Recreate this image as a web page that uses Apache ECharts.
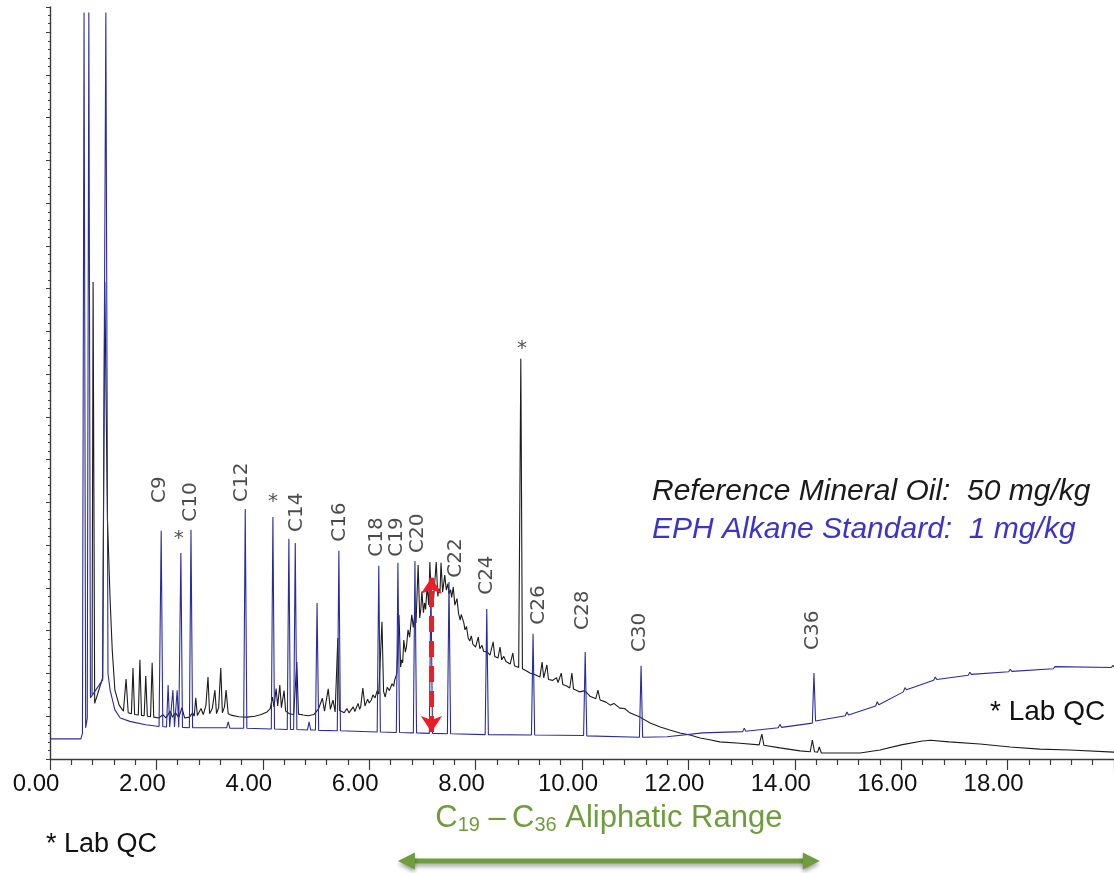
<!DOCTYPE html>
<html>
<head>
<meta charset="utf-8">
<script src="https://cdn.jsdelivr.net/npm/echarts@6/dist/echarts.min.js"></script>
<style>
  html, body { margin: 0; padding: 0; background: #fff; }
  #main { width: 1114px; height: 873px; }
</style>
</head>
<body>
<div id="main"></div>
<script>
// retention time (min) vs detector response
var blackTrace = [
  [0.79, 150], [0.81, 1116], [0.84, 130], [0.99, 190], [1.03, 1116], [1.08, 560], [1.13, 372],
  [1.17, 255], [1.22, 161], [1.30, 126], [1.38, 112], [1.43, 187], [1.47, 108], [1.53, 106], [1.56, 213],
  [1.59, 104], [1.66, 103], [1.69, 232], [1.72, 102], [1.77, 101], [1.80, 194], [1.83, 100], [1.89, 99],
  [1.92, 225], [1.95, 98], [2.05, 96], [2.12, 104], [2.18, 96], [2.26, 112], [2.30, 98], [2.36, 108],
  [2.42, 97], [2.48, 120], [2.53, 96], [2.62, 98], [2.68, 108], [2.71, 100], [2.74, 143], [2.77, 102],
  [2.84, 118], [2.88, 104], [2.93, 125], [2.97, 192], [3.00, 106], [3.05, 118], [3.10, 161], [3.13, 106],
  [3.17, 120], [3.21, 213], [3.24, 108], [3.28, 122], [3.31, 161], [3.35, 106], [3.42, 102], [3.55, 99],
  [3.70, 98], [3.85, 100], [3.97, 104], [4.08, 110], [4.14, 118], [4.18, 145], [4.21, 122], [4.25, 165],
  [4.28, 124], [4.32, 173], [4.35, 120], [4.40, 160], [4.43, 112], [4.50, 106], [4.58, 104], [4.64, 227],
  [4.67, 105], [4.76, 103], [4.86, 101], [4.96, 104], [5.05, 118], [5.12, 142], [5.16, 112], [5.23, 164],
  [5.27, 116], [5.32, 138], [5.36, 110], [5.41, 283], [5.44, 114], [5.53, 108], [5.58, 118], [5.62, 108],
  [5.70, 122], [5.73, 111], [5.79, 130], [5.82, 116], [5.84, 122], [5.88, 166], [5.92, 124], [5.97, 140],
  [6.00, 131], [6.04, 138], [6.07, 150], [6.11, 143], [6.15, 160], [6.18, 152], [6.24, 321], [6.27, 158],
  [6.30, 145], [6.34, 168], [6.38, 160], [6.43, 176], [6.46, 170], [6.48, 185], [6.52, 200], [6.56, 337],
  [6.59, 215], [6.61, 232], [6.63, 225], [6.65, 278], [6.68, 250], [6.70, 262], [6.73, 302], [6.76, 285],
  [6.80, 337], [6.83, 308], [6.85, 330], [6.88, 318], [6.92, 454], [6.95, 330], [6.97, 350], [6.99, 392],
  [7.02, 342], [7.04, 365], [7.06, 350], [7.09, 405], [7.12, 360], [7.14, 461], [7.17, 368], [7.19, 382],
  [7.21, 375], [7.26, 461], [7.29, 380], [7.31, 398], [7.33, 388], [7.35, 459], [7.38, 390], [7.42, 430],
  [7.45, 395], [7.48, 410], [7.50, 386], [7.53, 396], [7.55, 378], [7.58, 402], [7.61, 360], [7.65, 375],
  [7.68, 340], [7.71, 325], [7.73, 338], [7.75, 330], [7.78, 318], [7.80, 302], [7.83, 310], [7.86, 283],
  [7.89, 276], [7.92, 288], [7.95, 268], [8.00, 262], [8.05, 285], [8.08, 258], [8.12, 266], [8.15, 252],
  [8.22, 250], [8.27, 243], [8.33, 274], [8.36, 240], [8.42, 236], [8.46, 262], [8.49, 232], [8.53, 240],
  [8.57, 228], [8.65, 222], [8.70, 248], [8.73, 218], [8.81, 214], [8.85, 936], [8.88, 211], [8.96, 206],
  [9.02, 201], [9.10, 198], [9.17, 194], [9.21, 192], [9.25, 227], [9.28, 190], [9.34, 220], [9.37, 186],
  [9.45, 184], [9.52, 190], [9.55, 179], [9.61, 201], [9.64, 174], [9.72, 170], [9.77, 166], [9.81, 201],
  [9.84, 164], [9.96, 157], [10.05, 160], [10.15, 147], [10.26, 141], [10.30, 161], [10.34, 138], [10.45, 133],
  [10.53, 126], [10.60, 130], [10.71, 119], [10.80, 118], [10.90, 108], [11.09, 98], [11.28, 84], [11.47, 75],
  [11.65, 68], [11.84, 61], [12.03, 56], [12.22, 49], [12.40, 45], [12.59, 40], [12.97, 37], [13.33, 33],
  [13.38, 58], [13.42, 32], [13.72, 26], [14.10, 19], [14.29, 17], [14.33, 44], [14.37, 17], [14.43, 16],
  [14.46, 28], [14.50, 14], [14.66, 14], [15.23, 14], [15.60, 21], [16.00, 33], [16.40, 42], [16.55, 44],
  [16.90, 40], [17.48, 35], [18.05, 28], [18.60, 23], [19.17, 21], [20.00, 16]
];

var blueTrace = [
  [0.00, 47], [0.58, 47], [0.61, 60], [0.64, 1746], [0.67, 73], [0.70, 95], [0.73, 1746], [0.76, 143],
  [0.99, 185], [1.05, 1746], [1.09, 200], [1.13, 161], [1.22, 115], [1.32, 96], [1.50, 88], [1.80, 80],
  [2.05, 76], [2.09, 534], [2.12, 76], [2.19, 75], [2.22, 173], [2.25, 75], [2.28, 75], [2.31, 161],
  [2.34, 75], [2.36, 75], [2.39, 161], [2.42, 74], [2.44, 74], [2.46, 482], [2.49, 74], [2.62, 73],
  [2.65, 536], [2.68, 73], [3.00, 73], [3.32, 73], [3.35, 87], [3.38, 72], [3.64, 72], [3.67, 585],
  [3.70, 72], [4.16, 70], [4.19, 566], [4.22, 70], [4.46, 69], [4.49, 515], [4.52, 69], [4.58, 69],
  [4.61, 505], [4.64, 69], [4.84, 68], [4.87, 87], [4.90, 68], [4.99, 68], [5.02, 365], [5.05, 67],
  [5.40, 66], [5.43, 487], [5.46, 66], [6.15, 63], [6.18, 452], [6.21, 63], [6.51, 62], [6.54, 459],
  [6.57, 62], [6.83, 61], [6.86, 463], [6.89, 61], [7.13, 60], [7.16, 410], [7.19, 60], [7.47, 59],
  [7.50, 414], [7.53, 59], [8.18, 57], [8.21, 351], [8.24, 57], [9.05, 56], [9.08, 293], [9.11, 56],
  [10.03, 55], [10.06, 250], [10.09, 54], [11.08, 51], [11.11, 218], [11.14, 51], [11.60, 52], [12.27, 61],
  [13.02, 64], [13.05, 72], [13.08, 65], [13.69, 73], [13.72, 81], [13.75, 74], [14.33, 84], [14.36, 201],
  [14.39, 89], [14.95, 101], [14.98, 110], [15.01, 103], [15.52, 124], [15.55, 134], [15.58, 127], [16.04, 157],
  [16.07, 167], [16.10, 162], [16.61, 184], [16.64, 192], [16.67, 186], [17.26, 196], [17.29, 203], [17.32, 198],
  [18.02, 204], [18.05, 210], [18.08, 205], [18.86, 211], [18.89, 216], [18.92, 212], [19.95, 214], [19.98, 219],
  [20.00, 215]
];

// alkane labels: name and where the text starts (time, response)
var peakNames = ['C9', 'C10', 'C12', 'C14', 'C16', 'C18', 'C19', 'C20', 'C22', 'C24', 'C26', 'C28', 'C30', 'C36'];
var peakLabelPos = [
  [2.07, 599], [2.65, 555], [3.61, 601], [4.64, 531], [5.45, 508], [6.15, 473], [6.52, 473],
  [6.92, 482], [7.63, 424], [8.21, 384], [9.19, 314], [10.02, 302], [11.09, 250], [14.34, 255]
];
var qcStars = [[2.42, 515], [4.19, 601], [8.87, 959]];

// red double arrow (time, low, high) and the C19-C36 window
var redArrowTime = 7.17;
var redArrowLow = 63;
var redArrowHigh = 424;
var aliphaticRange = [6.54, 14.47];

var green = '#6f9c3d';

var chart = echarts.init(document.getElementById('main'));

var option = {
  animation: false,
  grid: { left: 50, right: 0, top: 7, bottom: 114 },
  xAxis: {
    type: 'value',
    min: 0,
    max: 20,
    interval: 2,
    splitLine: { show: false },
    axisLine: { onZero: false, lineStyle: { color: '#3a3a3a', width: 1.4 } },
    axisTick: { length: 11, lineStyle: { color: '#3a3a3a', width: 1.2 } },
    minorTick: { show: true, splitNumber: 5, length: 6, lineStyle: { color: '#3a3a3a', width: 1.2 } },
    axisLabel: {
      formatter: function (v) { return v.toFixed(2); },
      fontSize: 24,
      fontFamily: 'Liberation Sans, Arial, sans-serif',
      color: '#111',
      margin: 13,
      showMaxLabel: false,
      padding: [0, 28, 0, 0]
    }
  },
  yAxis: {
    type: 'value',
    min: 0,
    max: 1759,
    interval: 100,
    splitLine: { show: false },
    axisLine: { show: true, onZero: false, lineStyle: { color: '#3a3a3a', width: 1.4 } },
    axisTick: { show: true, length: 4, lineStyle: { color: '#3a3a3a' } },
    minorTick: { show: true, splitNumber: 5, length: 2, lineStyle: { color: '#3a3a3a' } },
    axisLabel: { show: false }
  },
  series: [
    {
      name: 'Reference Mineral Oil',
      type: 'line',
      data: blackTrace,
      symbol: 'none',
      z: 2,
      lineStyle: { color: '#1c1c1c', width: 1.1 },
      itemStyle: { color: '#1c1c1c' }
    },
    {
      name: 'EPH Alkane Standard',
      type: 'line',
      data: blueTrace,
      symbol: 'none',
      z: 3,
      lineStyle: { color: '#2b2b9e', width: 1.1 },
      itemStyle: { color: '#2b2b9e' },
      markLine: {
        silent: true,
        symbol: ['arrow', 'arrow'],
        symbolSize: 16,
        label: { show: false },
        lineStyle: { color: '#ee1c24', width: 5, type: [16, 9] },
        data: [[{ coord: [redArrowTime, redArrowLow] }, { coord: [redArrowTime, redArrowHigh] }]]
      }
    },
    {
      type: 'scatter',
      silent: true,
      symbolSize: 0,
      z: 4,
      data: peakNames.map(function (n, i) { return { name: n, value: peakLabelPos[i] }; }),
      label: {
        show: true,
        formatter: '{b}',
        position: 'inside',
        rotate: 90,
        align: 'left',
        verticalAlign: 'middle',
        fontSize: 20,
        fontFamily: 'DejaVu Sans',
        color: '#1e1e1e'
      }
    },
    {
      type: 'scatter',
      silent: true,
      symbolSize: 0,
      z: 4,
      data: qcStars,
      label: {
        show: true,
        formatter: '*',
        position: 'inside',
        align: 'center',
        verticalAlign: 'middle',
        fontSize: 20,
        fontFamily: 'DejaVu Sans',
        color: '#1e1e1e'
      }
    }
  ]
};

chart.setOption(option);

// annotations: legend text, lab QC notes, green range arrow
var x0 = chart.convertToPixel({ gridIndex: 0 }, [aliphaticRange[0], 0])[0];
var x1 = chart.convertToPixel({ gridIndex: 0 }, [aliphaticRange[1], 0])[0];
var ay = 861;
var shadow = { shadowBlur: 4, shadowOffsetY: 3, shadowColor: 'rgba(0,0,0,0.35)' };

chart.setOption({
  graphic: [
    {
      type: 'text', silent: true,
      style: { text: 'Reference Mineral Oil:  50 mg/kg', x: 652, y: 492, verticalAlign: 'middle',
        font: 'italic 30px "Liberation Sans", Arial, sans-serif', fill: '#1a1a1a' }
    },
    {
      type: 'text', silent: true,
      style: { text: 'EPH Alkane Standard:  1 mg/kg', x: 652, y: 530, verticalAlign: 'middle',
        font: 'italic 30px "Liberation Sans", Arial, sans-serif', fill: '#3c34c8' }
    },
    {
      type: 'text', silent: true,
      style: { text: '* Lab QC', x: 990, y: 712, verticalAlign: 'middle',
        font: '28px "Liberation Sans", Arial, sans-serif', fill: '#111' }
    },
    {
      type: 'text', silent: true,
      style: { text: '* Lab QC', x: 46, y: 845, verticalAlign: 'middle',
        font: '27px "Liberation Sans", Arial, sans-serif', fill: '#111' }
    },
    {
      type: 'text', silent: true,
      style: {
        text: '{m|C}{s|19}{m| \u2013\u2009C}{s|36}{m| Aliphatic Range}',
        x: (x0 + x1) / 2, y: 818, align: 'center', verticalAlign: 'middle',
        rich: {
          m: { fontSize: 31, fontFamily: 'Liberation Sans', fill: green },
          s: { fontSize: 20, fontFamily: 'Liberation Sans', fill: green, padding: [15, 0, 0, 0] }
        }
      }
    },
    {
      type: 'line', silent: true,
      shape: { x1: x0 + 12, y1: ay, x2: x1 - 12, y2: ay },
      style: Object.assign({ stroke: green, lineWidth: 5 }, shadow)
    },
    {
      type: 'polygon', silent: true,
      shape: { points: [[x0, ay], [x0 + 17, ay - 8.5], [x0 + 17, ay + 8.5]] },
      style: Object.assign({ fill: green }, shadow)
    },
    {
      type: 'polygon', silent: true,
      shape: { points: [[x1, ay], [x1 - 17, ay - 8.5], [x1 - 17, ay + 8.5]] },
      style: Object.assign({ fill: green }, shadow)
    }
  ]
});
</script>
</body>
</html>
